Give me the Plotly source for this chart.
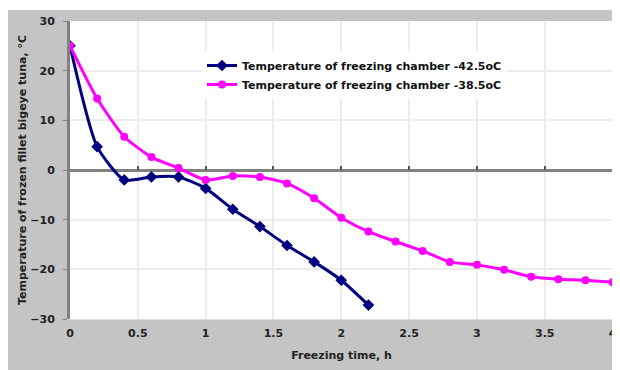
import plotly.graph_objects as go

time_h = [0, 0.2, 0.4, 0.6, 0.8, 1.0, 1.2, 1.4, 1.6, 1.8, 2.0, 2.2, 2.4, 2.6, 2.8, 3.0, 3.2, 3.4, 3.6, 3.8, 4.0]
temp_425 = [25, 4.7, -2.0, -1.4, -1.4, -3.7, -7.9, -11.4, -15.2, -18.5, -22.2, -27.2]
temp_385 = [25, 14.4, 6.7, 2.6, 0.4, -2.0, -1.2, -1.4, -2.7, -5.7, -9.6, -12.4, -14.4, -16.3, -18.5, -19.1, -20.1, -21.5, -22.0, -22.2, -22.6]
name_425 = "Temperature of freezing chamber -42.5oC"
name_385 = "Temperature of freezing chamber -38.5oC"
x_ticks = [0, 0.5, 1, 1.5, 2, 2.5, 3, 3.5, 4]
x_tick_text = ["0", "0.5", "1", "1.5", "2", "2.5", "3", "3.5", "4"]
y_ticks = [-30, -20, -10, 0, 10, 20, 30]

FONT = "DejaVu Sans"
fig = go.Figure()
fig.add_trace(go.Scatter(x=time_h[:len(temp_425)], y=temp_425, name=name_425, mode="lines+markers",
                         line=dict(color="#000080", width=3, shape="spline", smoothing=0.6),
                         marker=dict(symbol="diamond", size=9, color="#000080")))
fig.add_trace(go.Scatter(x=time_h, y=temp_385, name=name_385, mode="lines+markers",
                         line=dict(color="#ff00ff", width=3, shape="spline", smoothing=0.6),
                         marker=dict(symbol="circle", size=8, color="#ff00ff")))
# invisible trace to carry tick marks along the zero line
fig.add_trace(go.Scatter(x=[0, 4], y=[0, 0], xaxis="x2", mode="lines", line=dict(width=0),
                         showlegend=False, hoverinfo="skip"))

# page body has an 8px margin, so the figure is 612x362
W, H = 612, 362
ml, mr, mt, mb = 62, 7, 13, 51
pw, ph = W - ml - mr, H - mt - mb
gray = "#c4c4c4"
XR = [0, 4.003]

fig.update_layout(
    width=W, height=H,
    margin=dict(l=ml, r=mr, t=mt, b=mb, autoexpand=False),
    paper_bgcolor=gray, plot_bgcolor="white",
    font=dict(family=FONT, size=11, color="#222222"),
    showlegend=True,
    legend=dict(x=(194 - ml) / pw, y=1 - (43 - mt) / ph, xanchor="left", yanchor="top",
                bgcolor="white", font=dict(family=FONT, size=11, color="#111111", weight="bold"),
                itemwidth=30, tracegroupgap=0),
    xaxis=dict(range=XR, tickvals=x_ticks, ticktext=x_tick_text, showgrid=True,
               gridcolor="#ececec", gridwidth=1.5, zeroline=False, showline=True,
               linecolor="#dcdcdc", linewidth=1, mirror=False, ticks="", automargin=False,
               ticklabeloverflow="allow",
               tickfont=dict(family=FONT, size=11, color="#222222", weight="bold"),
               ticklabelstandoff=4,
               title=dict(text="Freezing time, h", font=dict(family=FONT, size=11, weight="bold"), standoff=12)),
    xaxis2=dict(range=XR, overlaying="x", anchor="free", position=0.5, side="bottom",
                tickvals=x_ticks, showticklabels=False, ticks="inside", ticklen=4, tickwidth=1.5,
                tickcolor="#555555", showgrid=False, zeroline=False, showline=False, automargin=False),
    yaxis=dict(range=[-30, 30], tickvals=y_ticks, showgrid=True, gridcolor="#ececec", gridwidth=1.5,
               zeroline=True, zerolinecolor="#808080", zerolinewidth=3, automargin=False,
               showline=True, linecolor="#808080", linewidth=3, ticks="outside", ticklen=4,
               tickcolor="#808080", tickfont=dict(family=FONT, size=11, color="#222222", weight="bold"),
               ticklabelstandoff=6,
               title=dict(text="Temperature of frozen fillet bigeye tuna, °C",
                          font=dict(family=FONT, size=11, weight="bold"), standoff=2)),
    shapes=[
        dict(type="rect", xref="paper", yref="paper", x0=-ml / pw - 0.02, x1=1 + mr / pw + 0.02,
             y0=1 + (mt - 2) / ph, y1=1 + mt / ph + 0.02, fillcolor="white", line=dict(width=0), layer="below"),
        dict(type="line", xref="paper", yref="paper", x0=1, x1=1, y0=0, y1=1,
             line=dict(color="#dcdcdc", width=1)),
    ],
)
fig.write_html("out.html")
